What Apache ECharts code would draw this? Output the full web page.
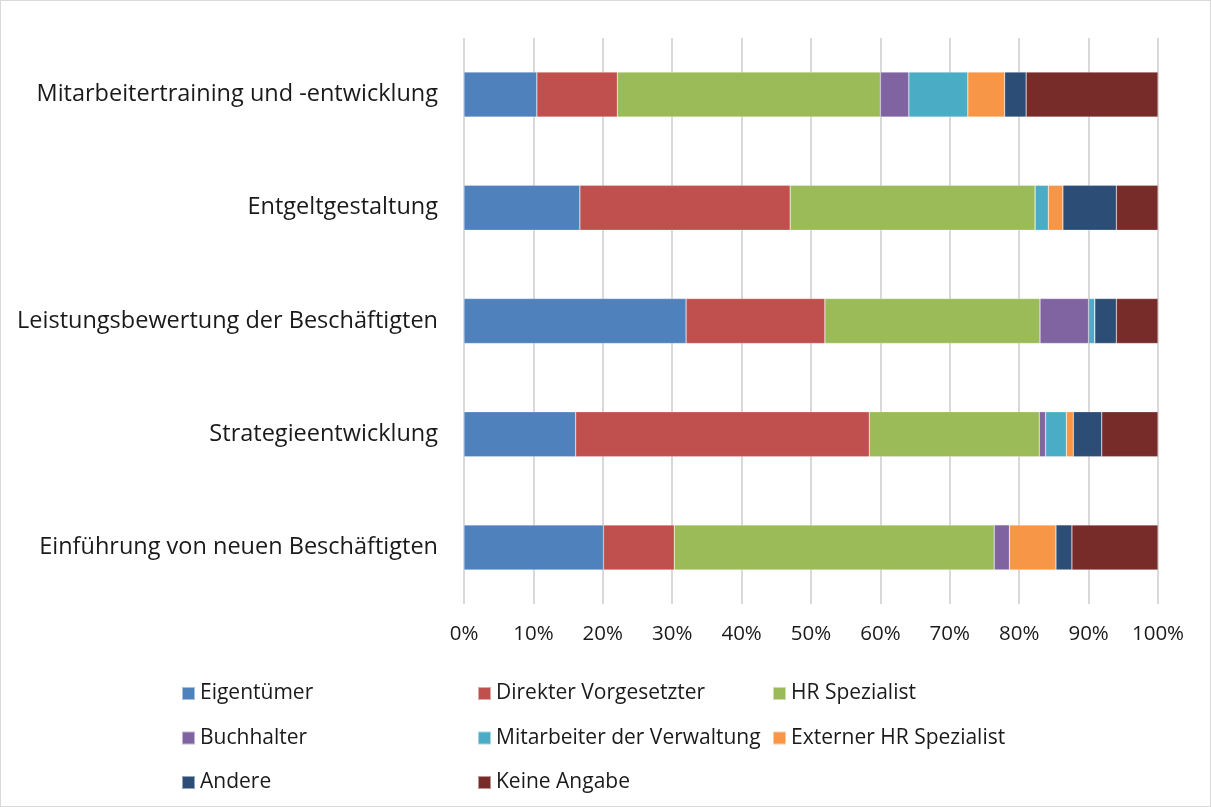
<!DOCTYPE html>
<html>
  <head>
    <meta charset="utf-8">
    <title>Zuständigkeiten</title>
    <style>
      html, body { margin: 0; padding: 0; background: #fff; }
      #main { width: 1211px; height: 807px; box-sizing: border-box; border: 1px solid #d9d9d9; }
    </style>
    <script src="https://cdn.jsdelivr.net/npm/echarts@6/dist/echarts.min.js"></script>
  </head>
  <body>
    <div id="main"></div>
    <script type="text/javascript">
      // categories, top to bottom
      var categories = [
        'Mitarbeitertraining und -entwicklung',
        'Entgeltgestaltung',
        'Leistungsbewertung der Beschäftigten',
        'Strategieentwicklung',
        'Einführung von neuen Beschäftigten'
      ]

      // shares in %, same order as categories
      var eigentuemer = [10.5, 16.7, 32.0, 16.1, 20.1]
      var direkter = [11.6, 30.3, 20.0, 42.3, 10.2]
      var hrSpezialist = [37.9, 35.3, 31.0, 24.5, 46.1]
      var buchhalter = [4.1, 0, 7.0, 0.9, 2.2]
      var mitarbeiterVerw = [8.5, 1.9, 0.9, 3.0, 0]
      var externerHr = [5.3, 2.1, 0, 1.0, 6.7]
      var andere = [3.1, 7.7, 3.1, 4.1, 2.3]
      var keineAngabe = [19.0, 6.0, 6.0, 8.1, 12.4]

      var seriesNames = ['Eigentümer', 'Direkter Vorgesetzter', 'HR Spezialist', 'Buchhalter',
        'Mitarbeiter der Verwaltung', 'Externer HR Spezialist', 'Andere', 'Keine Angabe']
      var seriesData = [eigentuemer, direkter, hrSpezialist, buchhalter, mitarbeiterVerw, externerHr, andere, keineAngabe]
      var colors = ['#4F81BD', '#C0504D', '#9BBB59', '#8064A2', '#4BACC6', '#F79646', '#2C4D75', '#772C2A']

      var font = 'Open Sans'
      var textColor = '#1a1a1a'

      var series = seriesNames.map(function (n, i) {
        return {
          name: n,
          type: 'bar',
          stack: 'total',
          barWidth: 45,
          data: seriesData[i],
          itemStyle: { color: colors[i], borderColor: 'rgba(255,255,255,0.5)', borderWidth: 0.5 }
        }
      })

      // one vertical legend per column, like the three-column layout of the original
      function legendCol(left, names) {
        return {
          orient: 'vertical',
          left: left,
          top: 677,
          itemWidth: 13,
          itemHeight: 13,
          itemGap: 23.5,
          itemTextGap: 6,
          icon: 'rect',
          data: names,
          textStyle: { color: textColor, fontFamily: font, fontSize: 21 }
        }
      }

      var myChart = echarts.init(document.getElementById('main'))
      myChart.setOption({
        animation: false,
        color: colors,
        grid: { left: 463, right: 52, top: 37, bottom: 202, containLabel: false },
        xAxis: {
          type: 'value',
          min: 0,
          max: 100,
          interval: 10,
          axisLabel: { formatter: '{value}%', color: textColor, fontFamily: font, fontSize: 20.5, margin: 20 },
          axisLine: { show: false },
          axisTick: { show: false },
          splitLine: { lineStyle: { color: '#d9d9d9', width: 2 } }
        },
        yAxis: {
          type: 'category',
          inverse: true,
          data: categories,
          axisLine: { show: false },
          axisTick: { show: false },
          axisLabel: { color: textColor, fontFamily: font, fontSize: 23.5, margin: 26 }
        },
        legend: [
          legendCol(175, ['Eigentümer', 'Buchhalter', 'Andere']),
          legendCol(471, ['Direkter Vorgesetzter', 'Mitarbeiter der Verwaltung', 'Keine Angabe']),
          legendCol(766, ['HR Spezialist', 'Externer HR Spezialist'])
        ],
        series: series
      })
    </script>
  </body>
</html>
